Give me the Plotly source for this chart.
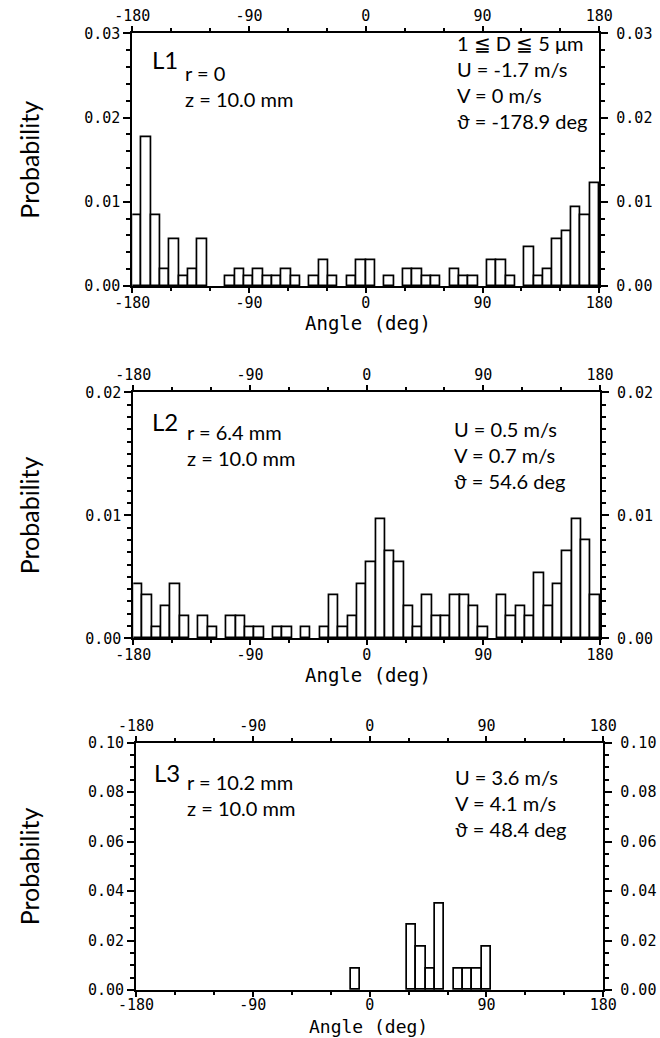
import plotly.graph_objects as go

W, H = 660, 1038

# ---------------- data ----------------
bin_width = 7.2
n_bins = 50
bin_centers = [-180 + bin_width * (k + 0.5) for k in range(n_bins)]

x_tick_vals = [-180, -90, 0, 90, 180]
x_tick_text = ["-180", "-90", "0", "90", "180"]
x_minor_vals = [-150, -120, -60, -30, 30, 60, 120, 150]

prob_L1 = [0.0084, 0.0176, 0.0084, 0.0020, 0.0056, 0.0011, 0.0020, 0.0056, 0.0, 0.0,
           0.0011, 0.0020, 0.0011, 0.0020, 0.0011, 0.0011, 0.0020, 0.0011, 0.0, 0.0011,
           0.0030, 0.0011, 0.0, 0.0011, 0.0030, 0.0030, 0.0, 0.0011, 0.0, 0.0020,
           0.0020, 0.0011, 0.0011, 0.0, 0.0020, 0.0011, 0.0011, 0.0, 0.0030, 0.0030,
           0.0011, 0.0, 0.0046, 0.0011, 0.0020, 0.0056, 0.0065, 0.0093, 0.0084, 0.0122]

prob_L2 = [0.0044, 0.0035, 0.0009, 0.0026, 0.0044, 0.0018, 0.0, 0.0018, 0.0009, 0.0,
           0.0018, 0.0018, 0.0009, 0.0009, 0.0, 0.0009, 0.0009, 0.0, 0.0009, 0.0,
           0.0009, 0.0035, 0.0009, 0.0018, 0.0044, 0.0062, 0.0097, 0.0071, 0.0062, 0.0026,
           0.0009, 0.0035, 0.0018, 0.0018, 0.0035, 0.0035, 0.0026, 0.0009, 0.0, 0.0035,
           0.0018, 0.0026, 0.0018, 0.0053, 0.0026, 0.0044, 0.0071, 0.0097, 0.0080, 0.0035]

prob_L3 = [0.0, 0.0, 0.0, 0.0, 0.0, 0.0, 0.0, 0.0, 0.0, 0.0,
           0.0, 0.0, 0.0, 0.0, 0.0, 0.0, 0.0, 0.0, 0.0, 0.0,
           0.0, 0.0, 0.0, 0.0087, 0.0, 0.0, 0.0, 0.0, 0.0, 0.0264,
           0.0174, 0.0087, 0.0351, 0.0, 0.0087, 0.0087, 0.0087, 0.0174, 0.0, 0.0,
           0.0, 0.0, 0.0, 0.0, 0.0, 0.0, 0.0, 0.0, 0.0, 0.0]

panel_ids = ["L1", "L2", "L3"]
left_text = [["r = 0", "z = 10.0 mm"],
             ["r = 6.4 mm", "z = 10.0 mm"],
             ["r = 10.2 mm", "z = 10.0 mm"]]
right_text = [["1 ≦ D ≦ 5 μm", "U = -1.7 m/s", "V = 0 m/s", "ϑ = -178.9 deg"],
              ["U = 0.5 m/s", "V = 0.7 m/s", "ϑ = 54.6 deg"],
              ["U = 3.6 m/s", "V = 4.1 m/s", "ϑ = 48.4 deg"]]

y_max = [0.03, 0.02, 0.10]
y_major = [[0.00, 0.01, 0.02, 0.03], [0.00, 0.01, 0.02], [0.00, 0.02, 0.04, 0.06, 0.08, 0.10]]
y_minor_step = [0.002, 0.001, 0.005]

# ---------------- layout geometry (pixels) ----------------
# (left, right, top, bottom)
boxes = [(132.3, 599.3, 33.3, 286.0),
         (133.3, 600.0, 392.3, 638.3),
         (136.0, 603.3, 742.7, 990.0)]
# (id x, id y, left-block x, left-block centre y)
left_txt_pos = [(150, 60, 183, 86),
                (150, 421, 185, 445),
                (152, 772, 185, 795)]
# (right-block x, right-block centre y)
right_txt_pos = [(455, 82),
                 (452, 455),
                 (453, 803)]
bottom_label_standoff = [-3, -3, -5]
x_title_size = [19, 19, 18]

TICK_FONT = dict(family="DejaVu Sans Mono", size=15, color="black")
TEXT_FONT = "Lato, Roboto, sans-serif"

def px(x):
    return x / W

def py(y):
    return 1 - y / H

fig = go.Figure()
layout = dict(
    width=W, height=H,
    margin=dict(l=0, r=0, t=0, b=0, autoexpand=False),
    paper_bgcolor="white", plot_bgcolor="white",
    showlegend=False,
    bargap=0,
)
annotations = []
series = [prob_L1, prob_L2, prob_L3]

for p in range(3):
    bx, tx = 2 * p + 1, 2 * p + 2
    l, r, t, b = boxes[p]
    xdom = [px(l), px(r)]
    ydom = [py(b), py(t)]
    xb = "x" if bx == 1 else f"x{bx}"
    yb = "y" if bx == 1 else f"y{bx}"
    xt = f"x{tx}"
    yr = f"y{tx}"

    fig.add_trace(go.Bar(
        x=bin_centers, y=series[p], width=bin_width,
        marker=dict(color="white",
                    line=dict(color="black", width=[1.7 if v > 0 else 0 for v in series[p]])),
        xaxis=xb, yaxis=yb, hoverinfo="x+y",
    ))
    fig.add_trace(go.Scatter(x=[None], y=[None], xaxis=xt, yaxis=yr,
                             mode="markers", hoverinfo="skip", showlegend=False))

    ymin_vals = []
    v = 0.0
    while v <= y_max[p] + 1e-9:
        if all(abs(v - m) > 1e-9 for m in y_major[p]):
            ymin_vals.append(round(v, 4))
        v += y_minor_step[p]

    common_x = dict(
        range=[-180, 180], tickmode="array", tickvals=x_tick_vals, ticktext=x_tick_text,
        ticks="outside", ticklen=5, tickwidth=1.5, tickcolor="black",
        minor=dict(tickvals=x_minor_vals, ticks="outside", ticklen=3, tickwidth=1.5, tickcolor="black"),
        showline=True, linewidth=2, linecolor="black", showgrid=False, zeroline=False,
        tickfont=TICK_FONT, fixedrange=True, automargin=False,
    )
    common_y = dict(
        range=[0, y_max[p]], tickmode="array", tickvals=y_major[p],
        ticktext=[f"{val:.2f}" for val in y_major[p]],
        ticks="outside", ticklen=7, tickwidth=1.5, tickcolor="black",
        minor=dict(tickvals=ymin_vals, ticks="outside", ticklen=4, tickwidth=1.5, tickcolor="black"),
        showline=True, linewidth=2, linecolor="black", showgrid=False, zeroline=False,
        tickfont=TICK_FONT, fixedrange=True, automargin=False,
    )
    layout[f"xaxis{'' if bx == 1 else bx}"] = dict(domain=xdom, anchor=yb, side="bottom",
                                                    ticklabelstandoff=bottom_label_standoff[p], **common_x)
    layout[f"xaxis{tx}"] = dict(overlaying=xb, anchor=yb, side="top", ticklabelstandoff=-1, **common_x)
    layout[f"yaxis{'' if bx == 1 else bx}"] = dict(domain=ydom, anchor=xb, side="left", **common_y)
    layout[f"yaxis{tx}"] = dict(overlaying=yb, anchor=xb, side="right", ticklabelstandoff=5, **common_y)

    # y title
    annotations.append(dict(text="Probability", x=px(29), y=py((t + b) / 2), xref="paper", yref="paper",
                            textangle=-90, showarrow=False, xanchor="center", yanchor="middle",
                            font=dict(family=TEXT_FONT, size=25, color="black")))
    # x title
    annotations.append(dict(text="Angle (deg)", x=px(368), y=py(min(b + 37, H - 12)),
                            xref="paper", yref="paper",
                            showarrow=False, xanchor="center", yanchor="middle",
                            font=dict(family="DejaVu Sans Mono", size=x_title_size[p], color="black")))
    # panel id
    idx, idy, lx, ly = left_txt_pos[p]
    annotations.append(dict(text=panel_ids[p], x=px(idx), y=py(idy), xref="paper", yref="paper",
                            showarrow=False, xanchor="left", yanchor="middle",
                            font=dict(family=TEXT_FONT, size=24, color="black")))
    annotations.append(dict(text="<br>".join(left_text[p]), x=px(lx), y=py(ly),
                            xref="paper", yref="paper", align="left",
                            showarrow=False, xanchor="left", yanchor="middle",
                            font=dict(family=TEXT_FONT, size=20, color="black")))
    rx, ry = right_txt_pos[p]
    annotations.append(dict(text="<br>".join(right_text[p]), x=px(rx), y=py(ry),
                            xref="paper", yref="paper", align="left",
                            showarrow=False, xanchor="left", yanchor="middle",
                            font=dict(family=TEXT_FONT, size=20, color="black")))

layout["annotations"] = annotations
fig.update_layout(**layout)
fig.write_html("out.html")
